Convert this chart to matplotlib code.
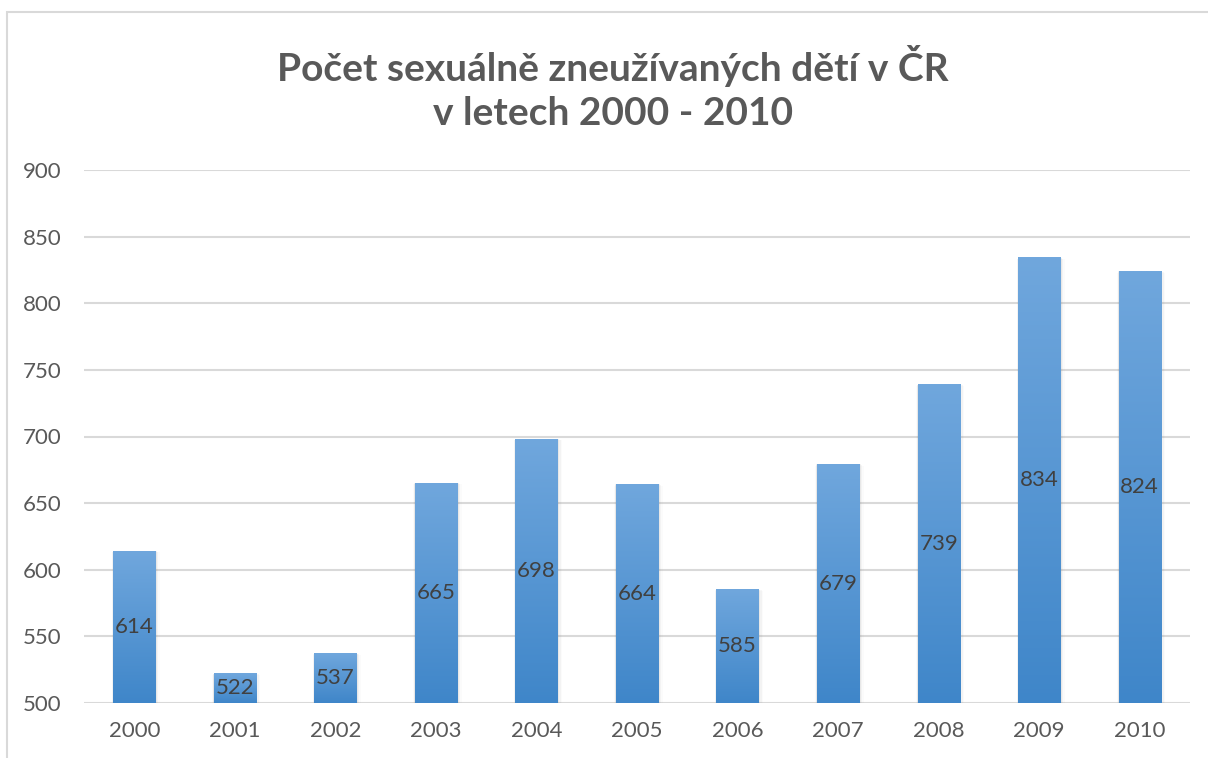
import matplotlib.pyplot as plt
import numpy as np
from matplotlib.colors import LinearSegmentedColormap
from matplotlib.patches import Rectangle

plt.rcParams['font.family'] = ['Lato', 'DejaVu Sans']

# data
years = ['2000', '2001', '2002', '2003', '2004', '2005', '2006', '2007', '2008', '2009', '2010']
counts = [614, 522, 537, 665, 698, 664, 585, 679, 739, 834, 824]
title = 'Počet sexuálně zneužívaných dětí v ČR\nv letech 2000 - 2010'

base = 500
bar_w = 0.42
grad = LinearSegmentedColormap.from_list('bar', ['#3f86c9', '#70a7dd'])

fig = plt.figure(figsize=(12.08, 7.58), dpi=100)
# outer chart border (cut off at right/bottom like the screenshot)
fig.patches.append(Rectangle((7 / 1208, -0.05), 1.1, 1 - 12 / 758 + 0.05,
                             transform=fig.transFigure, fill=False,
                             edgecolor='#d9d9d9', linewidth=1.5))

ax = fig.add_axes([84 / 1208, 1 - 703 / 758, (1190 - 84) / 1208, (703 - 170) / 758])
ax.set_yticks(range(500, 901, 50))
ax.set_xticks(range(len(years)))
ax.set_xticklabels(years)
ax.yaxis.grid(True, color='#d9d9d9', linewidth=1.5)
ax.set_axisbelow(True)
for s in ax.spines.values():
    s.set_visible(False)
ax.tick_params(length=0, labelsize=16, colors='#595959')
ax.tick_params(axis='x', pad=13)
ax.tick_params(axis='y', pad=16)

gradient = np.linspace(0, 1, 256).reshape(-1, 1)
for i, v in enumerate(counts):
    # soft shadow
    for k, a in enumerate([0.10, 0.06, 0.03]):
        d = 0.010 * (k + 1)
        ax.add_patch(Rectangle((i - bar_w / 2 - d / 2, base), bar_w + 2 * d, v - base - 0.5 * k,
                               facecolor='#808080', alpha=a, edgecolor='none', zorder=2))
    ax.imshow(gradient, cmap=grad, aspect='auto', origin='lower',
              extent=(i - bar_w / 2, i + bar_w / 2, base, v), zorder=3)
    ax.text(i, (base + v) / 2, str(v), ha='center', va='center',
            fontsize=16, color='#404040', zorder=4)

ax.set_xlim(-0.5, len(years) - 0.5)
ax.set_ylim(500, 900)

fig.text(613 / 1208, 1 - 88 / 758, title, ha='center', va='center',
         fontsize=28, fontweight='bold', color='#595959', linespacing=1.3)

fig.savefig('out.png', dpi=100)
